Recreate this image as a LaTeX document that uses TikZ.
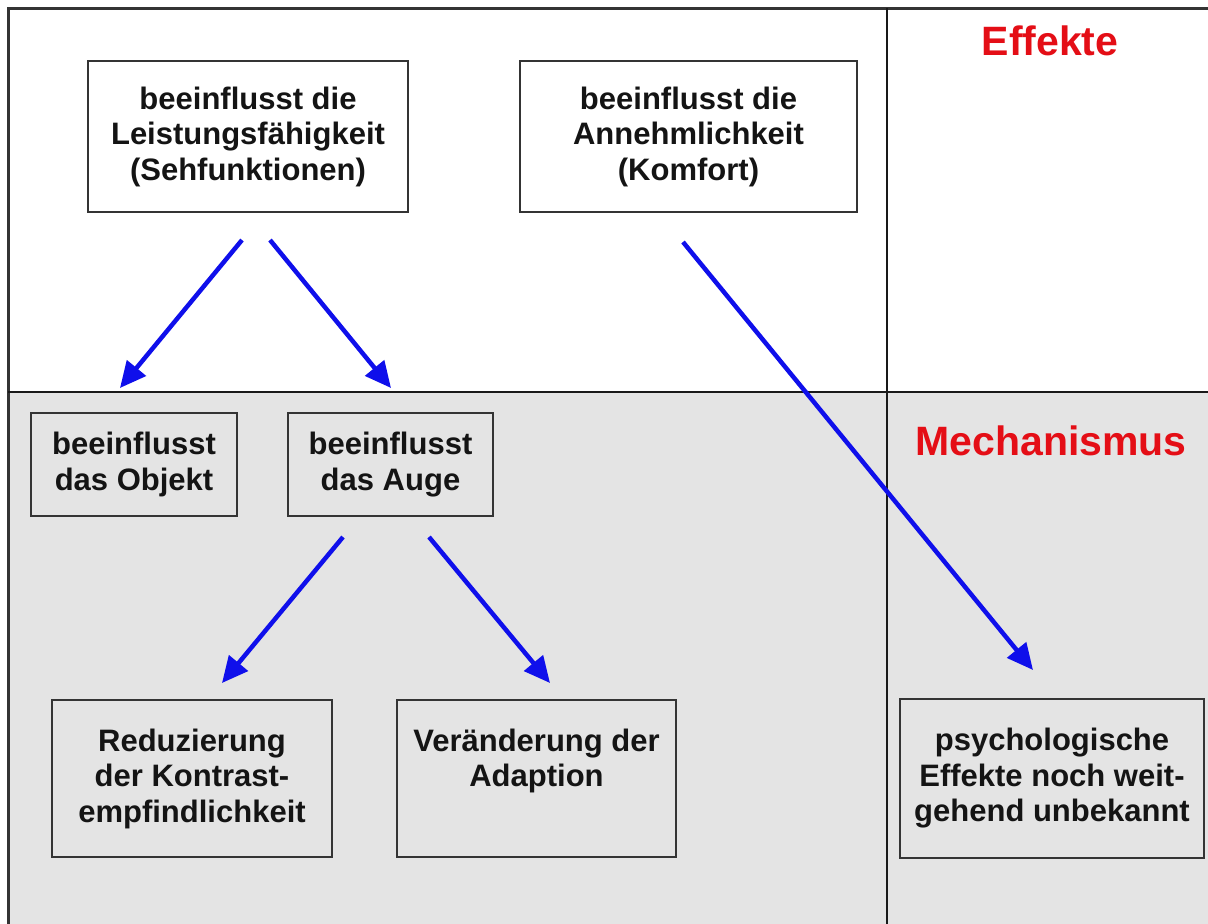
\documentclass[tikz,border=0pt]{standalone}
\usepackage{fontspec}
\setmainfont{Liberation Sans}
\usetikzlibrary{arrows.meta}
\definecolor{panelgray}{RGB}{228,228,228}
\definecolor{framegray}{RGB}{52,52,52}
\definecolor{arrowblue}{RGB}{15,15,235}
\definecolor{headred}{RGB}{228,14,22}
\begin{document}
\begin{tikzpicture}[x=1pt,y=-1pt,
  box/.style={draw=framegray, line width=2.6pt, align=center, inner sep=0pt,
    font=\bfseries\fontsize{31}{35.5}\selectfont, text=black!92},
  heading/.style={text=headred, font=\bfseries\fontsize{41}{48}\selectfont, anchor=base},
  flow/.style={draw=arrowblue, line width=4.5pt, -{Triangle[length=26pt,width=24pt]}},
  divider/.style={draw=black!90, line width=2.5pt}]
\useasboundingbox (0,0) rectangle (1208,924);
\clip (0,0) rectangle (1208,924);

% panels: effects (top, white) and mechanism (bottom, grey)
\fill[white] (0,0) rectangle (1208,924);
\fill[panelgray] (8,392) rectangle (1220,940);
\draw[framegray, line width=3pt] (8,8) rectangle (1220,940);
\draw[divider] (8,392) -- (1220,392);
\draw[divider] (887,8) -- (887,940);

% column headings
\node[heading] (eff) at (1050,55) {Effekte};
\node[heading] (mech) at (1051,455) {Mechanismus};

% effect boxes
\node[box, fill=white, minimum width=320pt, minimum height=151pt] (lf) at (248,136.5)
  {beeinflusst die\\Leistungsfähigkeit\\(Sehfunktionen)};
\node[box, fill=white, minimum width=337pt, minimum height=151pt] (an) at (688.5,136.5)
  {beeinflusst die\\Annehmlichkeit\\(Komfort)};

% mechanism boxes
\node[box, minimum width=206pt, minimum height=103pt] (ob) at (134,464.5)
  {beeinflusst\\das Objekt};
\node[box, minimum width=205pt, minimum height=103pt] (au) at (390.5,464.5)
  {beeinflusst\\das Auge};
\node[box, minimum width=280pt, minimum height=157pt] (rk) at (192,778.5)
  {Reduzierung\\der Kontrast-\\empfindlichkeit};
\node[box, minimum width=279pt, minimum height=157pt] (ad) at (536.5,778.5)
  {Veränderung der\\Adaption\\\vphantom{empfindlichkeit}};
\node[box, minimum width=304pt, minimum height=159pt] (ps) at (1052,778.5)
  {psychologische\\Effekte noch weit-\\gehend unbekannt};

% arrow end points
\coordinate (lf-a) at (242,240);
\coordinate (ob-in) at (120,388);
\coordinate (lf-b) at (270,240);
\coordinate (au-in) at (391,388);
\coordinate (au-a) at (343,537);
\coordinate (rk-in) at (222,683);
\coordinate (au-b) at (429,537);
\coordinate (ad-in) at (550,683);
\coordinate (an-a) at (683,242);
\coordinate (ps-in) at (1033,670);

% connectors
\draw[flow] (lf-a) -- (ob-in);
\draw[flow] (lf-b) -- (au-in);
\draw[flow] (au-a) -- (rk-in);
\draw[flow] (au-b) -- (ad-in);
\draw[flow] (an-a) -- (ps-in);
\end{tikzpicture}
\end{document}
